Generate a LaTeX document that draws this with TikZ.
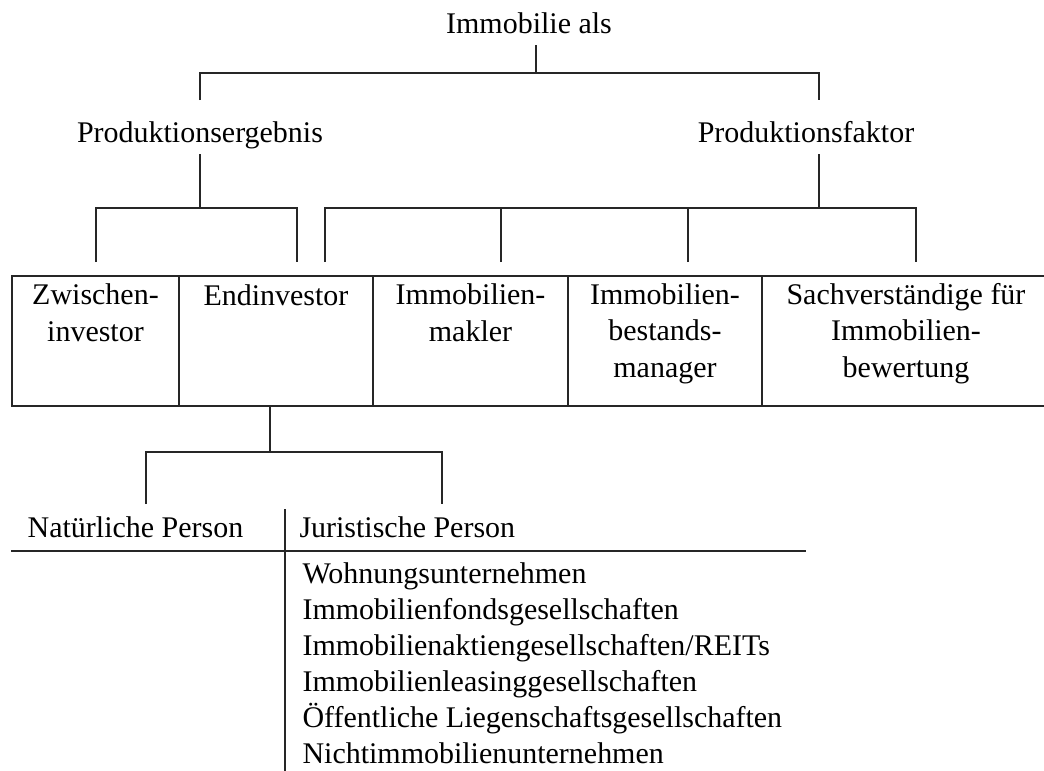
\documentclass[tikz,border=0pt]{standalone}
\usepackage{fontspec}
\setmainfont{Liberation Serif}
\usetikzlibrary{fit}

\begin{document}
\begin{tikzpicture}[
  x=0.377pt, y=-0.377pt,
  every node/.style={font=\fontsize{11.3}{13.6}\selectfont},
  tree/.style={draw=black!85, line width=0.55pt},
  stem/.style={tree, shorten <=2.2pt},
  lbl/.style={inner sep=0pt, text height=0.7em, text depth=0.22em, anchor=base},
  mlbl/.style={inner sep=0pt, anchor=base, align=center},
  cell/.style={draw=black!85, line width=0.55pt, inner sep=0pt},
  liste/.style={inner sep=0pt, anchor=base west, align=left,
                font=\fontsize{11.3}{13.5}\selectfont}]

  \useasboundingbox (0,0) rectangle (1044,771);
  \clip (0,0) rectangle (1044,771);

  % obere Ebene
  \node[lbl] (root) at (529,33) {Immobilie als};
  \node[lbl] (pe) at (200,142) {Produktionsergebnis};
  \node[lbl] (pf) at (806,142) {Produktionsfaktor};

  % Zeile mit den Akteuren (base = letzte Zeile)
  \node[cell, fit={(12,276) (179,406)}] (zw) {};
  \node[cell, fit={(179,276) (373,406)}] (ei) {};
  \node[cell, fit={(373,276) (568,406)}] (mk) {};
  \node[cell, fit={(568,276) (762,406)}] (bm) {};
  \node[cell, fit={(762,276) (1050,406)}] (sv) {};

  \node[mlbl] (zwt) at (95.5,341) {Zwischen-\\investor};
  \node[mlbl] (eit) at (276,305) {Endinvestor};
  \node[mlbl] (mkt) at (470.5,341) {Immobilien-\\makler};
  \node[mlbl] (bmt) at (665,377) {Immobilien-\\bestands-\\manager};
  \node[mlbl] (svt) at (906,377) {Sachverständige für\\Immobilien-\\bewertung};

  % Klammern
  \coordinate (t0) at (536,73);
  \coordinate (t1) at (200,208);
  \coordinate (t2) at (819,208);
  \coordinate (t3) at (270,452);

  \draw[stem] (root.south -| t0) -- (t0);
  \draw[tree] (200,100) |- (t0) -| (819,100);

  \draw[stem] (pe.south) -- (t1);
  \draw[tree] (96,262) |- (t1) -| (297,262);

  \draw[stem] (pf.south -| t2) -- (t2);
  \draw[tree] (325,262) |- (t2) -| (916,262);
  \draw[tree] (501,262) -- (501,208);
  \draw[tree] (688,262) -- (688,208);

  \draw[tree] (ei.south -| t3) -- (t3);
  \draw[tree] (146,504) |- (t3) -| (442,504);

  % Endinvestoren
  \node[lbl] (np) at (135.5,537) {Natürliche Person};
  \node[lbl, anchor=base west] (jp) at (299,537) {Juristische Person};
  \draw[tree] (285,509) -- (285,775);
  \draw[tree] (11,551) -- (806,551);

  \node[liste] (jl) at (302,763) {Wohnungsunternehmen\\
    Immobilienfondsgesellschaften\\
    Immobilienaktiengesellschaften/REITs\\
    Immobilienleasinggesellschaften\\
    Öffentliche Liegenschaftsgesellschaften\\
    Nichtimmobilienunternehmen};
\end{tikzpicture}
\end{document}
